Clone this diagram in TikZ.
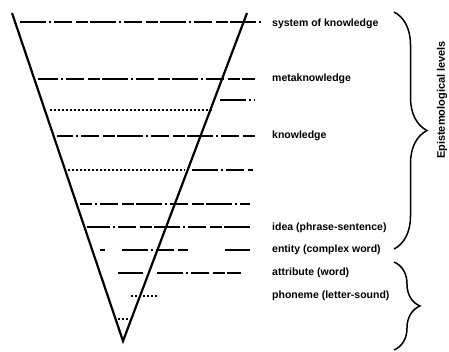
\documentclass[tikz,border=0pt]{standalone}
\usepackage{fontspec}
\setmainfont{Liberation Sans}
\usetikzlibrary{decorations.pathreplacing}

\tikzset{
  tri/.style={line width=2.2pt, line join=miter},
  lvl/.style={line width=1.2pt, dash pattern=on 26pt off 3pt on 2pt off 3pt on 18pt off 4pt on 12pt off 2pt},
  dotlvl/.style={line width=1.4pt, dash pattern=on 1.5pt off 2.5pt},
  lbl/.style={anchor=west, inner sep=0pt, font=\fontsize{10.5}{12}\selectfont\bfseries},
  brc/.style={decorate, line width=1.5pt, decoration={brace, amplitude=#1}},
}

\begin{document}
\begin{tikzpicture}[x=1pt, y=-1pt]
\useasboundingbox (0,0) rectangle (449,351);

\draw[tri] (12,13) -- (123,341) -- (247,13);

\draw[lvl] (20,22) -- (262,22);
\draw[lvl, dash phase=6pt] (38,79) -- (255,79);
\draw[lvl] (220,100) -- (255,100);
\draw[dotlvl] (50,110) -- (214,110);
\draw[lvl, dash phase=10pt] (57,136) -- (255,136);
\draw[dotlvl] (68,170) -- (185,170);
\draw[lvl] (192,170) -- (253,170);
\draw[lvl, dash phase=14pt] (80,204) -- (250,204);
\draw[lvl, dash phase=3pt] (87,227) -- (253,227);
\draw[lvl] (100,250) -- (105,250) (122,250) -- (188,250) (225,250) -- (250,250);
\draw[lvl] (118,273) -- (143,273) (157,273) -- (241,273);
\draw[dotlvl] (131,296) -- (157,296);
\draw[dotlvl] (118,319) -- (130,319);

\node[lbl] (sys) at (272,24) {system of knowledge};
\node[lbl] (meta) at (272,79) {metaknowledge};
\node[lbl] (know) at (272,136) {knowledge};
\node[lbl] (idea) at (272,228) {idea (phrase-sentence)};
\node[lbl] (ent) at (272,250) {entity (complex word)};
\node[lbl] (attr) at (272,273) {attribute (word)};
\node[lbl] (phon) at (272,296) {phoneme (letter-sound)};

\draw[brc=33pt] (394,12) -- (394,249);
\draw[brc=26pt] (394,262) -- (394,350);
\node[lbl, rotate=90, anchor=center, font=\fontsize{11}{13}\selectfont\bfseries] (epi) at (442,100) {Epistemological levels};
\end{tikzpicture}
\end{document}
